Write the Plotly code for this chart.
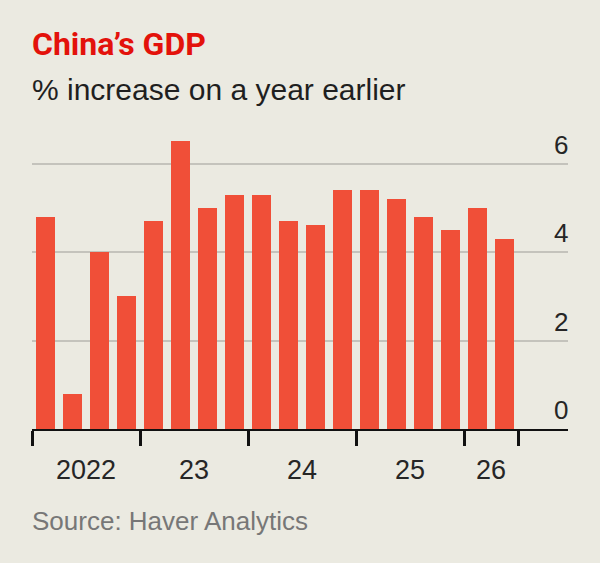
import plotly.graph_objects as go

# ---- data ----
year_labels = ["2022", "23", "24", "25", "26"]
quarters_per_year = [4, 4, 4, 4, 2]
gdp_growth = [4.8, 0.8, 4.0, 3.0,
              4.7, 6.5, 5.0, 5.3,
              5.3, 4.7, 4.6, 5.4,
              5.4, 5.2, 4.8, 4.5,
              5.0, 4.3]
y_ticks = [0, 2, 4, 6]

title_text = "China’s GDP"
subtitle_text = "% increase on a year earlier"
source_text = "Source: Haver Analytics"

# ---- style ----
BG = "#EBEAE1"
BAR = "#F04F38"
GRID = "#C4C3BC"
RED = "#E3120B"

W, H = 600, 563
ML, MR, MT, MB = 32, 32, 137, 134
PH = H - MT - MB

x_idx = list(range(len(gdp_growth)))

# year boundaries and label centres from the quarter counts
bounds = [-0.5]
centres = []
start = 0
for n in quarters_per_year:
    centres.append(start + (n - 1) / 2)
    start += n
    bounds.append(start - 0.5)

def paper_y(px):
    return (H - MB - px) / PH

fig = go.Figure()
fig.add_trace(go.Bar(
    x=x_idx, y=gdp_growth, width=0.70,
    marker=dict(color=BAR, line=dict(width=0)),
    hoverinfo="y",
))

fig.update_layout(
    width=W, height=H,
    margin=dict(l=ML, r=MR, t=MT, b=MB),
    paper_bgcolor=BG, plot_bgcolor=BG,
    showlegend=False,
    font=dict(family="Liberation Sans, Arial, sans-serif", color="#1f1f1f"),
    bargap=0,
)

fig.update_xaxes(
    range=[-0.5, 19.35],
    tickvals=bounds, ticktext=[""] * len(bounds),
    ticks="outside", ticklen=15, tickwidth=2.5, tickcolor="#111",
    showline=True, linecolor="#111", linewidth=2.4,
    showgrid=False, zeroline=False,
    fixedrange=True,
)

fig.update_yaxes(
    range=[0, 6.6],
    tickvals=y_ticks, showticklabels=False,
    ticks="", showline=False, zeroline=False,
    showgrid=True, gridcolor=GRID, gridwidth=1.8,
    fixedrange=True,
)

# y tick labels sitting above their gridlines, right-aligned
for v in y_ticks:
    fig.add_annotation(
        x=1, y=v, xref="paper", yref="y",
        text=str(v), showarrow=False, xanchor="right", yanchor="middle",
        yshift=19, xshift=2,
        font=dict(size=26, color="#262626"),
    )

# year labels
for c, lab in zip(centres, year_labels):
    fig.add_annotation(
        x=c, y=paper_y(470), xref="x", yref="paper",
        text=lab, showarrow=False, xanchor="center", yanchor="middle",
        font=dict(size=27, color="#262626"),
    )

# title / subtitle / source
x0 = -ML / (W - ML - MR)
fig.add_annotation(
    x=x0, y=paper_y(44), xref="paper", yref="paper",
    text="<b>" + title_text + "</b>", showarrow=False,
    xanchor="left", yanchor="middle", xshift=30,
    font=dict(size=32, color=RED, family="Roboto, Liberation Sans, sans-serif"),
)
fig.add_annotation(
    x=x0, y=paper_y(89), xref="paper", yref="paper",
    text=subtitle_text, showarrow=False,
    xanchor="left", yanchor="middle", xshift=30,
    font=dict(size=30, color="#1f1f1f"),
)
fig.add_annotation(
    x=x0, y=paper_y(521), xref="paper", yref="paper",
    text=source_text, showarrow=False,
    xanchor="left", yanchor="middle", xshift=30,
    font=dict(size=26, color="#777777"),
)

fig.write_html("out.html")
